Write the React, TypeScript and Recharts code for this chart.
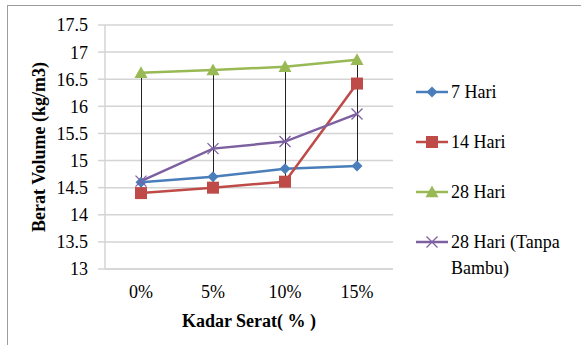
import React from 'react';
import { ComposedChart, Line, Bar, XAxis, YAxis, CartesianGrid } from 'recharts';

// Kadar serat categories
const categories = ['0%', '5%', '10%', '15%'];

// Berat volume per umur
const hari7 = [14.6, 14.7, 14.85, 14.9];
const hari14 = [14.4, 14.5, 14.61, 16.42];
const hari28 = [16.62, 16.67, 16.73, 16.86];
const hari28TanpaBambu = [14.62, 15.22, 15.35, 15.86];

const yTicks = [13, 13.5, 14, 14.5, 15, 15.5, 16, 16.5, 17, 17.5];

const FONT = '"Liberation Serif", "DejaVu Serif", serif';
const GRID = '#d4d4d4';

const series = [
  { key: 'h7', name: '7 Hari', color: '#4A7EBB', marker: 'diamond' },
  { key: 'h14', name: '14 Hari', color: '#BE4B48', marker: 'square' },
  { key: 'h28', name: '28 Hari', color: '#98B954', marker: 'triangle' },
  { key: 'h28tb', name: '28 Hari (Tanpa Bambu)', color: '#7D60A0', marker: 'x' },
];

const data = categories.map((c, i) => {
  const vals = [hari7[i], hari14[i], hari28[i], hari28TanpaBambu[i]];
  return {
    kadar: c,
    h7: hari7[i],
    h14: hari14[i],
    h28: hari28[i],
    h28tb: hari28TanpaBambu[i],
    // high-low line
    range: [Math.min(...vals), Math.max(...vals)],
  };
});

function Marker({ type, cx, cy, color }: { type: string; cx: number; cy: number; color: string }) {
  if (cx == null || cy == null) return null;
  if (type === 'diamond') {
    const r = 5.5;
    return <path d={`M${cx},${cy - r}L${cx + r},${cy}L${cx},${cy + r}L${cx - r},${cy}Z`} fill={color} />;
  }
  if (type === 'square') {
    const r = 6;
    return <rect x={cx - r} y={cy - r} width={r * 2} height={r * 2} fill={color} />;
  }
  if (type === 'triangle') {
    const r = 6.5;
    return <path d={`M${cx},${cy - r}L${cx + r},${cy + r * 0.8}L${cx - r},${cy + r * 0.8}Z`} fill={color} />;
  }
  const r = 5.5;
  return (
    <path
      d={`M${cx - r},${cy - r}L${cx + r},${cy + r}M${cx - r},${cy + r}L${cx + r},${cy - r}`}
      stroke={color}
      strokeWidth={1.3}
      fill="none"
    />
  );
}

function ChartLegend() {
  return (
    <div style={{ position: 'absolute', left: 416, top: 82, fontFamily: FONT, fontSize: 18, color: '#000' }}>
      {series.map((s, i) => (
        <div key={s.key} style={{ position: 'absolute', top: i * 50, left: 0, display: 'flex', alignItems: 'flex-start' }}>
          <svg width={34} height={20} style={{ flex: 'none' }}>
            <line x1={0} y1={10} x2={32} y2={10} stroke={s.color} strokeWidth={2.5} />
            <Marker type={s.marker} cx={16} cy={10} color={s.color} />
          </svg>
          <span style={{ lineHeight: '20px', width: 130, marginLeft: 1, whiteSpace: 'nowrap' }}>
            {s.key === 'h28tb' ? (
              <>
                28 Hari (Tanpa
                <br />
                <span style={{ lineHeight: '32px' }}>Bambu)</span>
              </>
            ) : (
              s.name
            )}
          </span>
        </div>
      ))}
    </div>
  );
}

export default function App() {
  return (
    <div style={{ position: 'absolute', left: 0, top: 0, width: 581, height: 345, overflow: 'hidden', background: '#fff' }}>
      <div
        style={{
          position: 'absolute',
          left: 7,
          top: 5,
          width: 700,
          height: 500,
          borderTop: '1.5px solid #9c9c9c',
          borderLeft: '1.5px solid #9c9c9c',
        }}
      />
      <ComposedChart
        width={581}
        height={345}
        data={data}
        margin={{ top: 25, right: 188, bottom: 18, left: 0 }}
        style={{ position: 'absolute', left: 0, top: 0 }}
      >
        <CartesianGrid vertical={false} stroke={GRID} strokeWidth={1.5} />
        <XAxis
          dataKey="kadar"
          height={58}
          tickLine={false}
          axisLine={{ stroke: GRID, strokeWidth: 1.5 }}
          tick={{ fontFamily: FONT, fontSize: 18, fill: '#000' }}
          tickMargin={10}
          label={{
            value: 'Kadar Serat( % )',
            position: 'insideBottom',
            offset: 0,
            style: { fontFamily: FONT, fontSize: 18, fontWeight: 'bold', fill: '#000' },
          }}
        />
        <YAxis
          width={105}
          domain={[13, 17.5]}
          ticks={yTicks}
          interval={0}
          tickSize={7}
          tickMargin={10}
          tickLine={{ stroke: GRID, strokeWidth: 1.5 }}
          axisLine={{ stroke: GRID, strokeWidth: 1.5 }}
          tick={{ fontFamily: FONT, fontSize: 18, fill: '#000' }}
          label={{
            value: 'Berat Volume (kg/m3)',
            angle: -90,
            position: 'center',
            dx: -14,
            style: { fontFamily: FONT, fontSize: 18, fontWeight: 'bold', fill: '#000' },
          }}
        />
        {series.map((s) => (
          <Line
            key={s.key}
            dataKey={s.key}
            name={s.name}
            stroke={s.color}
            strokeWidth={2.5}
            isAnimationActive={false}
            dot={(p: any) => <Marker key={`${s.key}-${p.index}`} type={s.marker} cx={p.cx} cy={p.cy} color={s.color} />}
            activeDot={false}
          />
        ))}
        <Bar dataKey="range" barSize={1} fill="#222" isAnimationActive={false} legendType="none" />
      </ComposedChart>
      <ChartLegend />
    </div>
  );
}
